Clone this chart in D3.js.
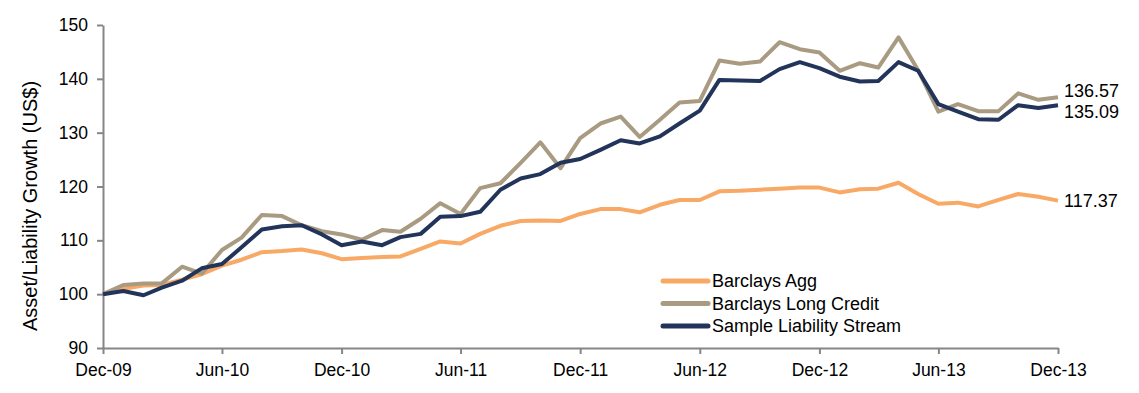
<!DOCTYPE html>
<html>
<head>
<meta charset="utf-8">
<script src="https://cdn.jsdelivr.net/npm/d3@7"></script>
<style>
    body { margin: 0; background: #fff; }
    svg { display: block; font-family: Arial, "Liberation Sans", sans-serif; }
    .axis path, .axis line { stroke: #868686; stroke-width: 2px; }
    .axis text { fill: #000; font-size: 17.5px; }
</style>
</head>
<body>
<svg id="chart" width="1139" height="393"></svg>
<script>
// Monthly index levels, Dec-09 = 100
var startMonth = new Date(2009, 11, 1);
var seriesNames = ['Barclays Agg', 'Barclays Long Credit', 'Sample Liability Stream'];
var seriesColors = ['#F9A966', '#A99A82', '#22345A'];

var barclaysAgg = [100, 101.0, 101.6, 101.7, 102.7, 103.7, 105.3, 106.4, 107.8, 108.0, 108.3, 107.6, 106.5,
    106.7, 106.9, 107.0, 108.4, 109.8, 109.4, 111.2, 112.7, 113.6, 113.7, 113.6, 114.9,
    115.8, 115.8, 115.2, 116.6, 117.5, 117.5, 119.1, 119.2, 119.4, 119.6, 119.8, 119.8,
    118.9, 119.5, 119.6, 120.7, 118.6, 116.8, 117.0, 116.3, 117.5, 118.6, 118.1, 117.37];

var barclaysLongCredit = [100, 101.7, 102.0, 102.0, 105.1, 103.8, 108.2, 110.5, 114.7, 114.5, 112.8, 111.7, 111.1,
    110.1, 111.9, 111.6, 114.0, 116.9, 114.9, 119.7, 120.6, 124.4, 128.2, 123.4, 129.0,
    131.7, 133.0, 129.2, 132.4, 135.6, 135.9, 143.4, 142.8, 143.2, 146.8, 145.5, 144.9,
    141.5, 142.9, 142.1, 147.7, 141.6, 133.9, 135.3, 134.0, 134.0, 137.3, 136.1, 136.57];

var liabilityStream = [100, 100.6, 99.8, 101.2, 102.5, 104.8, 105.6, 108.7, 112.0, 112.6, 112.8, 111.1, 109.1,
    109.8, 109.1, 110.6, 111.2, 114.4, 114.5, 115.3, 119.4, 121.5, 122.3, 124.4, 125.1,
    126.8, 128.6, 128.0, 129.3, 131.7, 134.1, 139.8, 139.7, 139.6, 141.8, 143.1, 142.0,
    140.4, 139.5, 139.6, 143.1, 141.5, 135.3, 133.9, 132.5, 132.4, 135.1, 134.6, 135.09];

var yTicks = [90, 100, 110, 120, 130, 140, 150];
var yLabel = 'Asset/Liability Growth (US$)';

var margin = { top: 25, right: 81, bottom: 45, left: 103 };
var width = 1139 - margin.left - margin.right;
var height = 393 - margin.top - margin.bottom;

var svg = d3.select('#chart');
var g = svg.append('g').attr('transform', 'translate(' + margin.left + ',' + margin.top + ')');

function monthDate(i) {
    return d3.timeMonth.offset(startMonth, i);
}

var x = d3.scaleTime()
    .domain([startMonth, monthDate(barclaysAgg.length - 1)])
    .range([0, width]);

var y = d3.scaleLinear().domain([90, 150]).range([height, 0]);

// Axes
var xAxis = d3.axisBottom(x)
    .tickValues(d3.timeMonth.range(startMonth, d3.timeMonth.offset(monthDate(barclaysAgg.length - 1), 1), 6))
    .tickFormat(d3.timeFormat('%b-%y'))
    .tickSizeInner(6).tickSizeOuter(0).tickPadding(10);

var yAxis = d3.axisLeft(y)
    .tickValues(yTicks)
    .tickSizeInner(6).tickSizeOuter(0).tickPadding(9);

g.append('g').attr('class', 'axis')
    .attr('transform', 'translate(0,' + height + ')')
    .call(xAxis);

g.append('g').attr('class', 'axis').call(yAxis);

svg.append('text')
    .attr('transform', 'translate(37,' + (margin.top + 181) + ') rotate(-90)')
    .attr('text-anchor', 'middle')
    .style('font-size', '20px')
    .text(yLabel);

// Lines
var allSeries = [barclaysAgg, barclaysLongCredit, liabilityStream];

var line = d3.line()
    .x(function (d, i) { return x(monthDate(i)); })
    .y(function (d) { return y(d); });

g.selectAll('.series')
    .data(allSeries)
    .enter()
    .append('path')
    .attr('class', 'series')
    .attr('fill', 'none')
    .attr('stroke', function (d, i) { return seriesColors[i]; })
    .attr('stroke-width', 4)
    .attr('stroke-linejoin', 'round')
    .attr('d', line);

// End labels, I push apart the ones that would overlap
var endLabels = allSeries.map(function (s) {
    return { value: s[s.length - 1], y: y(s[s.length - 1]) };
}).sort(function (a, b) { return a.y - b.y; });

for (var k = 1; k < endLabels.length; k++) {
    var gap = endLabels[k].y - endLabels[k - 1].y;
    if (gap < 21) {
        var mid = (endLabels[k].y + endLabels[k - 1].y) / 2;
        endLabels[k - 1].y = mid - 10.5;
        endLabels[k].y = mid + 10.5;
    }
}

g.selectAll('.end-label')
    .data(endLabels)
    .enter()
    .append('text')
    .attr('class', 'end-label')
    .attr('x', width + 6)
    .attr('y', function (d) { return d.y; })
    .attr('dy', '0.35em')
    .style('font-size', '18px')
    .text(function (d) { return d.value.toFixed(2); });

// Legend
var legend = svg.append('g').attr('transform', 'translate(661,281)');

var items = legend.selectAll('.legend-item')
    .data(seriesNames)
    .enter()
    .append('g')
    .attr('class', 'legend-item')
    .attr('transform', function (d, i) { return 'translate(0,' + (i * 22.5) + ')'; });

items.append('line')
    .attr('x1', 2).attr('x2', 47)
    .attr('stroke', function (d, i) { return seriesColors[i]; })
    .attr('stroke-width', 5)
    .attr('stroke-linecap', 'round');

items.append('text')
    .attr('x', 51)
    .attr('dy', '0.35em')
    .style('font-size', '18px')
    .text(function (d) { return d; });
</script>
</body>
</html>
